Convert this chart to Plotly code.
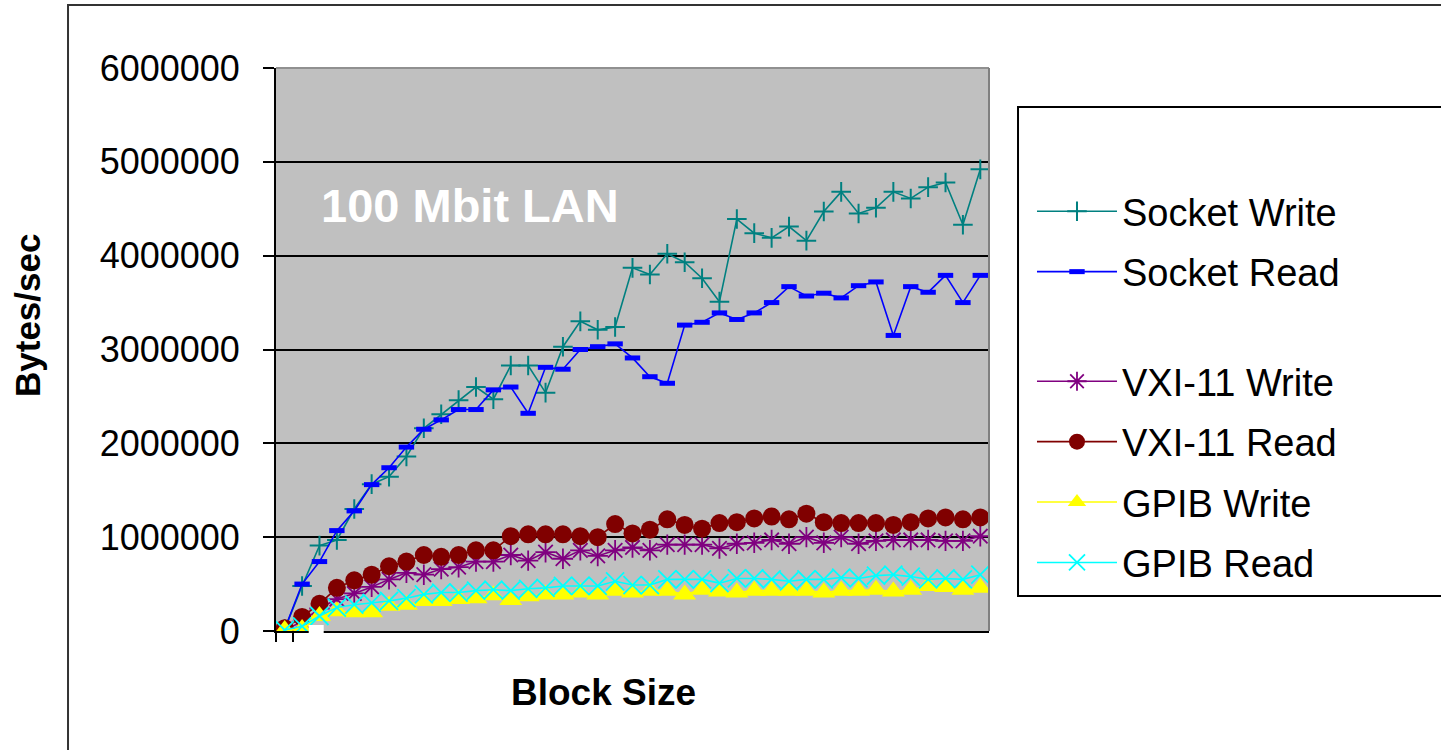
import plotly.graph_objects as go

# Throughput per block-size step (bytes/sec), 41 steps along the category axis
block_steps = list(range(41))

socket_write = [20000, 480000, 910000, 970000, 1300000, 1565000, 1645000, 1860000, 2160000, 2310000,
                2460000, 2600000, 2470000, 2830000, 2830000, 2540000, 3030000, 3300000, 3210000, 3240000,
                3870000, 3800000, 4020000, 3930000, 3760000, 3510000, 4390000, 4240000, 4190000, 4310000,
                4160000, 4470000, 4680000, 4450000, 4510000, 4680000, 4610000, 4730000, 4780000, 4330000,
                4920000]
socket_read = [20000, 500000, 740000, 1070000, 1280000, 1560000, 1740000, 1960000, 2150000, 2250000,
               2360000, 2360000, 2570000, 2600000, 2320000, 2810000, 2790000, 3000000, 3030000, 3060000,
               2910000, 2710000, 2640000, 3260000, 3290000, 3390000, 3320000, 3390000, 3500000, 3670000,
               3570000, 3600000, 3550000, 3680000, 3720000, 3150000, 3670000, 3610000, 3790000, 3500000,
               3790000]
vxi_write = [10000, 100000, 240000, 340000, 400000, 470000, 550000, 620000, 600000, 660000,
             680000, 740000, 740000, 810000, 750000, 840000, 770000, 860000, 800000, 860000,
             890000, 860000, 920000, 920000, 920000, 880000, 930000, 940000, 970000, 930000,
             1000000, 940000, 1000000, 930000, 960000, 970000, 970000, 970000, 960000, 960000,
             1010000]
vxi_read = [30000, 150000, 290000, 460000, 540000, 600000, 690000, 740000, 810000, 790000,
            810000, 860000, 860000, 1010000, 1030000, 1030000, 1030000, 1010000, 1000000, 1140000,
            1040000, 1080000, 1190000, 1130000, 1090000, 1150000, 1160000, 1200000, 1220000, 1190000,
            1250000, 1160000, 1150000, 1150000, 1150000, 1130000, 1160000, 1200000, 1210000, 1190000,
            1210000]
gpib_write = [10000, 20000, 160000, 210000, 200000, 200000, 270000, 280000, 320000, 320000,
              340000, 350000, 380000, 330000, 370000, 390000, 390000, 410000, 390000, 430000,
              410000, 430000, 430000, 390000, 440000, 420000, 410000, 430000, 430000, 430000,
              430000, 410000, 430000, 430000, 440000, 420000, 440000, 480000, 470000, 440000,
              460000]
gpib_read = [10000, 50000, 160000, 250000, 280000, 300000, 320000, 350000, 390000, 410000,
             410000, 430000, 440000, 430000, 450000, 460000, 480000, 480000, 480000, 530000,
             490000, 490000, 550000, 550000, 550000, 510000, 560000, 560000, 550000, 530000,
             550000, 550000, 570000, 560000, 590000, 600000, 580000, 550000, 560000, 550000,
             600000]

y_ticks = [0, 1000000, 2000000, 3000000, 4000000, 5000000, 6000000]

FONT = "Arial, Liberation Sans, sans-serif"

series = [
    ("Socket Write", socket_write, "#008080", dict(symbol="cross-thin-open", size=14,
                                                  line=dict(width=2, color="#008080")), "legend"),
    ("Socket Read", socket_read, "#0000FF", dict(symbol="line-ew-open", size=11,
                                                line=dict(width=5, color="#0000FF")), "legend"),
    ("VXI-11 Write", vxi_write, "#800080", dict(symbol="asterisk-open", size=17,
                                               line=dict(width=1.8, color="#800080")), "legend2"),
    ("VXI-11 Read", vxi_read, "#800000", dict(symbol="circle", size=18, color="#800000",
                                             line=dict(width=0)), "legend2"),
    ("GPIB Write", gpib_write, "#FFFF00", dict(symbol="triangle-up", size=20, color="#FFFF00",
                                              line=dict(width=0)), "legend2"),
    ("GPIB Read", gpib_read, "#00FFFF", dict(symbol="x-thin-open", size=18,
                                            line=dict(width=1.8, color="#00FFFF")), "legend2"),
]

fig = go.Figure()
for i, (name, vals, color, marker, leg) in enumerate(series):
    fig.add_trace(go.Scatter(
        x=block_steps, y=vals, name=name, mode="lines+markers",
        line=dict(color=color, width=1.6), marker=marker, legend=leg,
        legendgroup=f"g{i}", cliponaxis=True,
    ))

legend_common = dict(
    xanchor="left", yanchor="top", bgcolor="rgba(0,0,0,0)", borderwidth=0,
    font=dict(size=38, family=FONT, color="black"),
    tracegroupgap=8, traceorder="grouped", itemwidth=80,
)

fig.update_layout(
    width=1441, height=750,
    margin=dict(l=276, r=452, t=68, b=119),
    paper_bgcolor="white",
    plot_bgcolor="#C0C0C0",
    font=dict(family=FONT, color="black"),
    xaxis=dict(
        range=[-0.5, 40.5], showgrid=False, zeroline=False,
        showline=True, linecolor="black", linewidth=2,
        tickmode="array", tickvals=[-0.5, 0.5], ticks="outside", ticklen=9,
        tickwidth=2, tickcolor="black", showticklabels=False,
    ),
    yaxis=dict(
        range=[0, 6000000], tickmode="array", tickvals=y_ticks,
        ticktext=[str(v) for v in y_ticks],
        showgrid=True, gridcolor="black", gridwidth=2, zeroline=False,
        showline=True, linecolor="black", linewidth=2,
        ticks="outside", ticklen=11, tickwidth=2, tickcolor="black",
        tickfont=dict(size=36, family=FONT, color="black"),
        ticklabelstandoff=16,
    ),
    legend=dict(x=1.0603, y=0.801, **legend_common),
    legend2=dict(x=1.0603, y=0.499, **legend_common),
    showlegend=True,
)

shapes = [
    # outer chart frame
    dict(type="rect", xref="paper", yref="paper", x0=-0.2917, x1=1.75, y0=-0.3, y1=1.1119,
         line=dict(color="#333333", width=2), fillcolor="rgba(0,0,0,0)", layer="below"),
    # legend box
    dict(type="rect", xref="paper", yref="paper", x0=1.0407, x1=1.75, y0=0.0622, y1=0.9307,
         line=dict(color="black", width=2), fillcolor="rgba(0,0,0,0)", layer="below"),
    # plot-area border, top and right
    dict(type="line", xref="paper", yref="paper", x0=0, x1=1, y0=1, y1=1,
         line=dict(color="#909090", width=2), layer="above"),
    dict(type="line", xref="paper", yref="paper", x0=1, x1=1, y0=0, y1=1,
         line=dict(color="#808080", width=2), layer="above"),
    # small blank label box near the origin
    dict(type="rect", xref="paper", yref="paper", x0=0.0459, x1=0.0669, y0=-0.0107, y1=0.0107,
         line=dict(width=0), fillcolor="white", layer="above"),
]
fig.update_layout(shapes=shapes)

fig.add_annotation(text="<b>100 Mbit LAN</b>", xref="paper", yref="paper",
                   x=(470 - 276) / 713, y=(631 - 205) / 563, showarrow=False,
                   xanchor="center", yanchor="middle",
                   font=dict(size=47, color="white", family=FONT))
fig.add_annotation(text="<b>Bytes/sec</b>", xref="paper", yref="paper",
                   x=(27 - 276) / 713, y=(631 - 316) / 563, showarrow=False, textangle=-90,
                   xanchor="center", yanchor="middle",
                   font=dict(size=35, color="black", family=FONT))
fig.add_annotation(text="<b>Block Size</b>", xref="paper", yref="paper",
                   x=(603 - 276) / 713, y=(631 - 692) / 563, showarrow=False,
                   xanchor="center", yanchor="middle",
                   font=dict(size=37, color="black", family=FONT))

fig.write_html("out.html")
